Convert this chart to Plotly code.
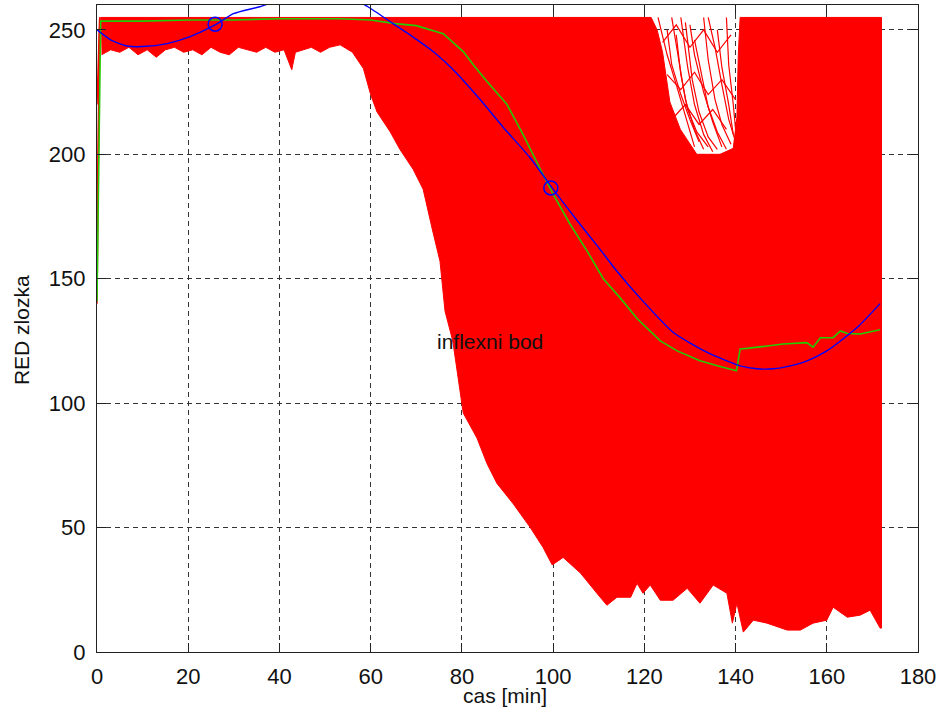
import plotly.graph_objects as go

# ---- data ----
# upper boundary of the red bundle of curves (with the notch around 120-141 min)
red_top_x = [0.8, 121.5, 122.8, 124.0, 125.6, 127.9, 131.5, 136.6, 139.5, 140.3, 140.6, 141.0, 172.0]
red_top_y = [255, 255, 250, 241, 221, 210, 200, 200, 202.4, 215, 240, 255, 255]

# lower boundary of the red bundle
red_low_x = [1, 3, 5, 7, 9, 11, 13, 15, 17, 19, 21, 23, 25, 27, 29, 31, 33, 35, 37, 39, 41,
             42.7, 43.5, 45, 47, 49, 51, 53.3, 56, 58.4, 60, 61.4, 64.3, 66.4, 69.3, 71.5,
             73.5, 75.2, 76.3, 78, 79.2, 80.3, 83.3, 85.5, 87.7, 91.2, 95, 97.8, 99.8, 102.2,
             106, 109.6, 111.8, 114, 117, 118.4, 119.7, 121.3, 123.5, 126.3, 129.4, 132.2,
             135.1, 138.1, 139.3, 140.3, 141.7, 143.9, 146.9, 151.3, 154.2, 157, 160, 161.4,
             164.5, 167.3, 169.5, 171.7, 172.0]
red_low_y = [240, 242, 241, 243, 240, 242, 239, 242, 243, 241, 242, 240, 243, 241, 240, 243, 242,
             241, 243, 241, 242, 234, 241, 242, 243, 241, 243, 244, 241, 234.5, 224, 217, 209,
             202, 194, 186, 170, 157, 137, 125, 110, 96, 86, 75.7, 67.7, 59.7, 50, 42, 35, 38,
             31.7, 23.6, 18.8, 22, 22, 27.6, 23.6, 26.9, 20.8, 20.8, 25.6, 19.6, 26.9, 23.6,
             11.6, 19.6, 8, 12.8, 11.6, 8.8, 8.8, 11.6, 12.8, 18, 14, 14.8, 16.8, 9.6, 9.6]

# a few individual red curves: start values at t=0 and curves inside the notch
red_start_x = [[0, 0.6], [0, 0.6], [0, 0.6]]
red_start_y = [[140, 255], [168, 255], [220, 255]]
hole_x = [[123, 125, 127, 129, 131],
          [126, 127.5, 129, 131, 133],
          [128, 129.5, 131, 133, 135],
          [130, 131, 133, 135, 137],
          [133, 134, 135.5, 137, 139],
          [136, 137, 138.5, 139.5],
          [124, 127, 130, 133, 136, 139],
          [125, 126, 128, 130, 132],
          [127, 128, 129.5, 131.5, 134],
          [129, 130.5, 132, 134, 136],
          [131, 132.5, 134, 136, 138],
          [134, 135.5, 137, 138.5, 140],
          [138, 138.5, 139.5, 140],
          [125, 128, 131, 134, 137, 140],
          [126, 129, 132, 135, 138]]
hole_y = [[255, 240, 228, 215, 203],
          [255, 238, 222, 210, 202],
          [255, 235, 220, 208, 201],
          [252, 240, 225, 213, 203],
          [255, 238, 222, 212, 204],
          [250, 235, 220, 208],
          [245, 252, 243, 250, 241, 248],
          [250, 236, 224, 214, 205],
          [248, 232, 218, 209, 203],
          [253, 230, 217, 207, 202],
          [246, 232, 219, 209, 202],
          [255, 243, 228, 214, 205],
          [255, 236, 220, 210],
          [232, 226, 233, 224, 230, 222],
          [214, 220, 212, 218, 210]]

# green (median-like) curve
green_x = [0, 0.8, 10, 20, 30, 40, 53.3, 60, 65.4, 70, 75.9, 80.3, 82.5, 85.5, 89.9, 93.4,
           97.1, 100, 103.7, 107.5, 111, 114.7, 118.4, 123.5, 127.2, 132.2, 136, 139.5, 140.2,
           141, 142.5, 147, 150.4, 155.6, 157, 158.6, 161.4, 163, 164.5, 167.3, 170, 171.7]
green_y = [141, 253.5, 253.5, 254, 254, 254.5, 254.5, 254, 252.5, 251.7, 248.5, 241.3, 236,
           229.3, 220, 208, 194.4, 184, 172, 161, 150, 142.3, 134, 125, 121, 117, 115, 113.5,
           113, 121.8, 122, 123, 123.8, 124.3, 122.5, 126.3, 126.3, 129, 128, 127.8, 129, 129.5]

# blue polynomial fit
blue_x = [0, 3, 6.6, 10, 15.4, 20.4, 25.9, 29.9, 35.7, 40, 45, 50, 55, 59.4, 64.9, 69, 73.7,
          78.9, 84, 89, 95, 100, 105, 110, 114, 119, 126.3, 133.7, 141, 144.7, 148.3, 152,
          155.7, 160, 163, 167, 171.7]
blue_y = [250, 246, 243.5, 243.3, 244.5, 247.3, 252, 256.5, 259.3, 262, 264.5, 265, 263.5,
          259.3, 252.5, 247.5, 241.3, 232.5, 222, 211, 198.5, 186, 174, 162.5, 153, 142.4,
          128.5, 120.5, 115, 113.8, 113.8, 115, 117, 121, 125, 131, 140]

# marked points (circles)
circle_x = [25.9, 99.5]
circle_y = [252.3, 186.5]

x_ticks = [0, 20, 40, 60, 80, 100, 120, 140, 160, 180]
y_ticks = [0, 50, 100, 150, 200, 250]

RED = "#FF0000"
BLUE = "#0000FF"
GREEN = "#22CC00"
FONT = "Liberation Sans, Arial, Helvetica, sans-serif"

fig = go.Figure()

# red band as a filled polygon built from the two boundaries
poly_x = red_top_x + red_low_x[::-1]
poly_y = red_top_y + red_low_y[::-1]
fig.add_trace(go.Scatter(x=poly_x, y=poly_y, mode="lines", fill="toself",
                         fillcolor=RED, line=dict(color=RED, width=1),
                         hoverinfo="skip", showlegend=False))
for xs, ys in zip(red_start_x, red_start_y):
    fig.add_trace(go.Scatter(x=xs, y=ys, mode="lines", line=dict(color=RED, width=1.5),
                             showlegend=False, hoverinfo="skip"))
for xs, ys in zip(hole_x, hole_y):
    fig.add_trace(go.Scatter(x=xs, y=ys, mode="lines", line=dict(color=RED, width=1.2),
                             showlegend=False, hoverinfo="skip"))

fig.add_trace(go.Scatter(x=green_x, y=green_y, mode="lines",
                         line=dict(color=GREEN, width=1.6), showlegend=False))
fig.add_trace(go.Scatter(x=blue_x, y=blue_y, mode="lines",
                         line=dict(color=BLUE, width=1.4, shape="spline", smoothing=0.6),
                         showlegend=False))
fig.add_trace(go.Scatter(x=circle_x, y=circle_y, mode="markers",
                         marker=dict(symbol="circle-open", size=14,
                                     line=dict(color=BLUE, width=1.5), color=BLUE),
                         showlegend=False))

axis_common = dict(
    showline=True, linecolor="#222", linewidth=1.2, mirror="ticks",
    ticks="inside", ticklen=9, tickwidth=1.2, tickcolor="#222",
    showgrid=True, gridcolor="#333", gridwidth=1, griddash="5px,4px",
    zeroline=False, automargin=False,
    tickfont=dict(family=FONT, size=22, color="#111"),
)

fig.update_xaxes(range=[0, 180], tickvals=x_ticks, ticklabelstandoff=4, **axis_common)
fig.update_yaxes(range=[0, 260], tickvals=y_ticks, ticklabelstandoff=6, **axis_common)

fig.update_layout(
    width=943, height=722,
    margin=dict(l=97, r=25, t=5, b=70, autoexpand=False),
    plot_bgcolor="white", paper_bgcolor="white",
    showlegend=False,
    font=dict(family=FONT, size=21, color="#111"),
    annotations=[
        dict(x=74, y=124.6, xref="x", yref="y", text="inflexni bod", showarrow=False,
             xanchor="left", yanchor="middle", font=dict(family=FONT, size=21, color="#111")),
        dict(x=0.497, y=-0.068, xref="paper", yref="paper", text="cas [min]", showarrow=False,
             xanchor="center", yanchor="middle", font=dict(family=FONT, size=21, color="#111")),
        dict(x=-0.091, y=0.498, xref="paper", yref="paper", text="RED zlozka", showarrow=False,
             textangle=-90, xanchor="center", yanchor="middle",
             font=dict(family=FONT, size=21, color="#111")),
    ],
)

fig.write_html("out.html", config={"displayModeBar": False},
               post_script="document.body.style.margin='0';document.body.style.overflow='hidden';")
